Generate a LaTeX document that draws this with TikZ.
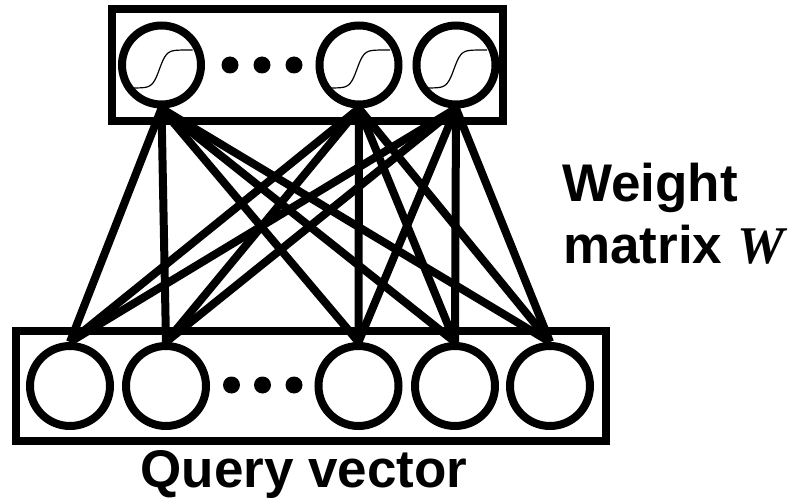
\documentclass[tikz,border=0pt]{standalone}
\usepackage{fontspec}
\setmainfont{Liberation Sans}
\newfontfamily\mathserif{Liberation Serif}
\begin{document}
\begin{tikzpicture}[x=1pt,y=-1pt,
  neuron/.style={circle,draw,line width=8pt,minimum size=79pt,inner sep=0pt},
  layerbox/.style={rectangle,draw,line width=8pt,inner sep=0pt},
  wire/.style={line width=8pt},
  sig/.style={line width=1.2pt},
  dotmark/.style={fill=black},
  lbl/.style={inner sep=0pt,font=\fontsize{53}{63}\selectfont\bfseries}]
\useasboundingbox (0,0) rectangle (788,503);

% layer frames
\node[layerbox,minimum width=391pt,minimum height=112pt] (topbox) at (307.5,65) {};
\node[layerbox,minimum width=590.5pt,minimum height=110.5pt] (botbox) at (310.75,385.75) {};

% output neurons (sigmoid units)
\node[neuron] (t1) at (161.5,65) {};
\node[neuron] (t2) at (359,65) {};
\node[neuron] (t3) at (456,65) {};

% input neurons
\node[neuron,minimum size=80pt] (b1) at (70,386) {};
\node[neuron,minimum size=80pt] (b2) at (166,386) {};
\node[neuron,minimum size=80pt] (b3) at (358.5,386) {};
\node[neuron,minimum size=80pt] (b4) at (455,386) {};
\node[neuron,minimum size=80pt] (b5) at (550,386) {};

% sigmoid curves inside output neurons
\foreach \n in {t1,t2,t3}
  \draw[sig,shift={(\n.center)}] plot[domain=-34:31,samples=60,smooth] (\x,{4-19*tanh((\x+2)/7)});

% ellipsis dots
\foreach \x in {230,262,294} \fill[dotmark] (\x,65) circle (8.5);
\foreach \x in {231.5,262.5,294} \fill[dotmark] (\x,385) circle (8.5);

% full weight connections
\foreach \t in {t1,t2,t3}
  \foreach \b in {b1,b2,b3,b4,b5}
    \draw[wire] (\t.south) -- (\b.north);

% labels
\node[lbl,anchor=base west] (w1) at (562,201.7) {Weight};
\node[lbl,anchor=base west] (w2) at (563,263.3) {matrix {\mathserif\bfseries\itshape W}};
\node[lbl,anchor=base] (q) at (304,487) {Query vector};
\end{tikzpicture}
\end{document}
